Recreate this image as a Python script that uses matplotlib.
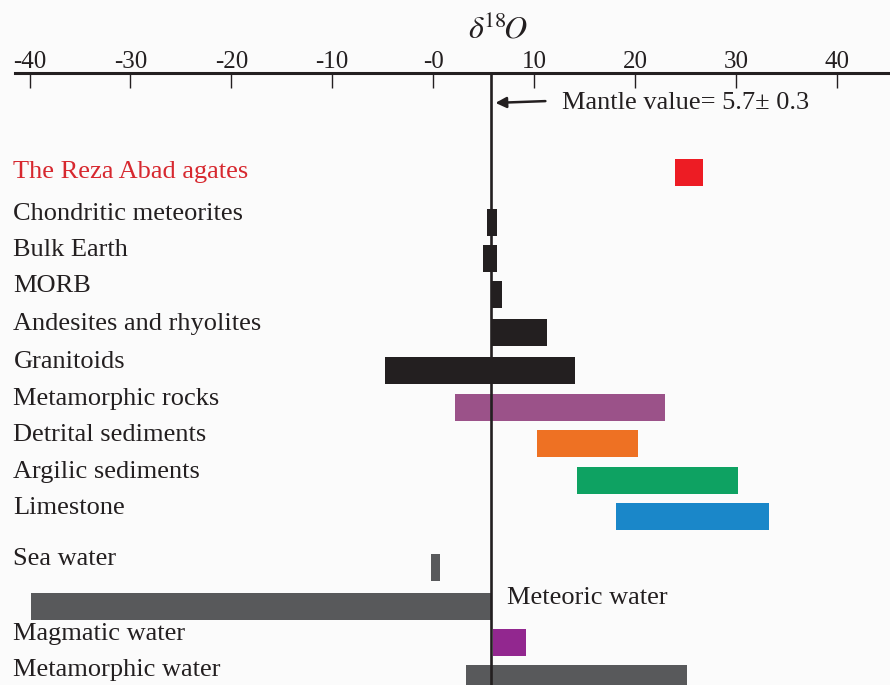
import matplotlib.pyplot as plt

plt.rcParams['font.family'] = ['Liberation Serif', 'DejaVu Serif']
plt.rcParams['mathtext.fontset'] = 'stix'

# delta 18O ranges (per mil) for each reservoir
names = ["The Reza Abad agates", "Chondritic meteorites", "Bulk Earth", "MORB",
         "Andesites and rhyolites", "Granitoids", "Metamorphic rocks",
         "Detrital sediments", "Argilic sediments", "Limestone",
         "Sea water", "Meteoric water", "Magmatic water", "Metamorphic water"]
low = [24.0, 5.3, 4.9, 5.75, 5.75, -4.75, 2.2, 10.3, 14.3, 18.1, -0.2, -39.9, 5.9, 3.3]
high = [26.7, 6.3, 6.3, 6.8, 11.3, 14.1, 23.0, 20.3, 30.2, 33.3, 0.7, 5.75, 9.2, 25.2]
colors = ["#ed1c24", "#231f20", "#231f20", "#231f20", "#231f20", "#231f20",
          "#9b5289", "#ee7123", "#0ea262", "#1a87c9",
          "#58595b", "#58595b", "#92278f", "#58595b"]
ticks = [-40, -30, -20, -10, 0, 10, 20, 30, 40]
tick_labels = ["-40", "-30", "-20", "-10", "-0", "10", "20", "30", "40"]
mantle = 5.7

# row layout (top to bottom)
rows = [172, 222, 258, 294, 332, 370, 407, 443, 480, 516, 567, 606, 642, 678]

W, H = 890, 685
fig = plt.figure(figsize=(W / 100, H / 100), dpi=100)
fig.patch.set_facecolor("#fbfbfb")
ax = fig.add_axes([15 / W, 0, 1 - 15 / W, (H - 73) / H])
ax.set_facecolor("#fbfbfb")

ax.set_xlim(-41.44, 45.28)
ax.set_ylim(H, 73)

widths = [h - l for l, h in zip(low, high)]
ax.barh(rows, widths, left=low, height=27, color=colors, zorder=2)
ax.axvline(mantle, color="#231f20", lw=1.9, zorder=3)

# category labels
for name, y, l, h in zip(names, rows, low, high):
    if name == "Meteoric water":
        ax.text(h + 1.6, y - 8, name, fontsize=19, va="center", ha="left",
                color="#231f20")
    elif name == "The Reza Abad agates":
        ax.text(-41.6, y, name, fontsize=19, va="center", ha="left",
                color="#d7282f", clip_on=False)
    else:
        ax.text(-41.6, y - 8, name, fontsize=19, va="center", ha="left",
                color="#231f20", clip_on=False)

ax.annotate("", xy=(mantle + 0.2, 103), xytext=(11.4, 101),
            arrowprops=dict(arrowstyle="-|>", color="#231f20", lw=1.8,
                            mutation_scale=16))
ax.text(12.8, 103, "Mantle value= 5.7± 0.3", fontsize=19, va="center",
        ha="left", color="#231f20")

# top axis
for side in ["bottom", "left", "right"]:
    ax.spines[side].set_visible(False)
ax.spines["top"].set_linewidth(2.2)
ax.spines["top"].set_color("#231f20")
ax.xaxis.tick_top()
ax.set_xticks(ticks)
ax.set_xticklabels(tick_labels, fontsize=18, color="#231f20")
ax.tick_params(axis="x", direction="in", length=11, width=1, pad=0,
               colors="#231f20")
ax.set_yticks([])
ax.text(6.4, 30, r"$\delta^{\!18}\!O$", fontsize=23, color="#231f20",
        ha="center", va="center", clip_on=False)

fig.savefig("out.png", dpi=100, facecolor=fig.get_facecolor())
